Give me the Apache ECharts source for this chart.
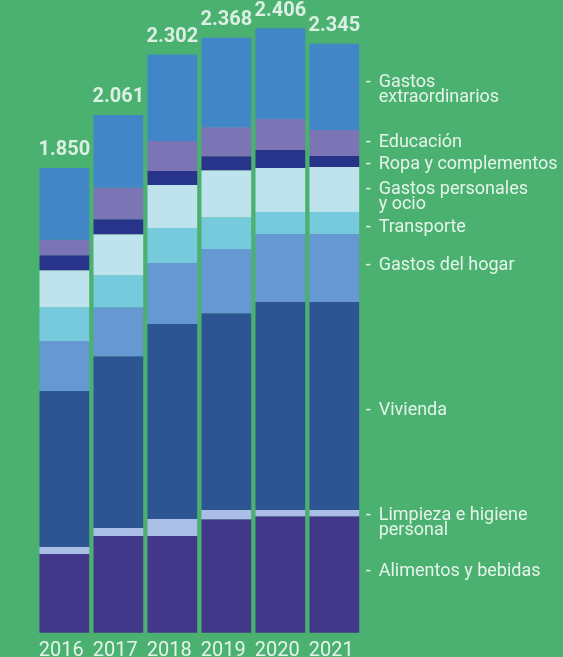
<!DOCTYPE html>
<html>
<head>
<meta charset="utf-8">
<script src="https://cdn.jsdelivr.net/npm/echarts@6/dist/echarts.min.js"></script>
<style>
html,body{margin:0;padding:0;background:#4ab170;}
#c{width:563px;height:657px;}
</style>
</head>
<body>
<div id="c"></div>
<script>
const years = ['2016','2017','2018','2019','2020','2021'];
const totals = [1850, 2061, 2302, 2368, 2406, 2345];

const alimentos      = [313, 385, 385, 452, 464, 464];
const limpieza       = [28, 32, 68, 36, 24, 24];
const vivienda       = [621, 684, 776, 784, 828, 828];
const hogar          = [199, 195, 243, 255, 271, 271];
const transporte     = [135, 127, 139, 127, 88, 88];
const personales     = [147, 163, 171, 187, 175, 179];
const ropa           = [60, 60, 56, 56, 72, 44];
const educacion      = [61, 125, 119, 115, 123, 103];
const extraordinarios= [286, 290, 345, 356, 361, 344];

const seriesDefs = [
  {name:'Alimentos y bebidas', data:alimentos, color:'#43378a', label:['Alimentos y bebidas'], off:-3},
  {name:'Limpieza e higiene personal', data:limpieza, color:'#abbee6', label:['Limpieza e higiene','personal'], off:10},
  {name:'Vivienda', data:vivienda, color:'#2d5592', label:['Vivienda'], off:4},
  {name:'Gastos del hogar', data:hogar, color:'#6699d1', label:['Gastos del hogar'], off:-3},
  {name:'Transporte', data:transporte, color:'#77c9dc', label:['Transporte'], off:5},
  {name:'Gastos personales y ocio', data:personales, color:'#bee3ec', label:['Gastos personales','y ocio'], off:8},
  {name:'Ropa y complementos', data:ropa, color:'#28338a', label:['Ropa y complementos'], off:3},
  {name:'Educación', data:educacion, color:'#7b75b6', label:['Educación'], off:0},
  {name:'Gastos extraordinarios', data:extraordinarios, color:'#4187c8', label:['Gastos','extraordinarios'], off:3}
];

const textColor = '#e6f4ea';
const last = years.length - 1;

const series = seriesDefs.map(s => ({
  name: s.name,
  type: 'bar',
  stack: 'total',
  barWidth: 49.7,
  itemStyle: {color: s.color},
  emphasis: {disabled: true},
  data: s.data.map((v, i) => i === last ? {
    value: v,
    label: {
      show: true,
      position: 'right',
      distance: 6.5,
      offset: [0, s.off],
      formatter: s.label.map((t, k) => (k === 0 ? '{d|-}' : '{d| }') + '{t|' + t + '}').join('\n'),
      rich: {
        d: {width: 13, color: textColor, fontSize: 18, fontFamily: 'Roboto', lineHeight: 15},
        t: {color: textColor, fontSize: 18, fontFamily: 'Roboto', lineHeight: 15}
      }
    }
  } : v)
}));

series.push({
  name: 'Total',
  type: 'scatter',
  data: totals,
  symbol: 'circle',
  symbolSize: 1,
  itemStyle: {color: 'rgba(0,0,0,0)'},
  silent: true,
  z: 10,
  label: {
    show: true,
    position: 'top',
    distance: 7,
    color: '#ffffff',
    fontFamily: 'Roboto',
    fontWeight: 'bold',
    fontSize: 20,
    formatter: p => {
      const s = String(p.value);
      return s.length > 3 ? s.slice(0, s.length - 3) + '.' + s.slice(-3) : s;
    }
  }
});

const chart = echarts.init(document.getElementById('c'), null, {renderer: 'canvas'});
chart.setOption({
  backgroundColor: '#4ab170',
  animation: false,
  grid: {left: 37.35, width: 324, top: 4.7, bottom: 24.3, containLabel: false, outerBoundsMode: 'none'},
  xAxis: {
    type: 'category',
    data: years,
    axisLine: {show: false},
    axisTick: {show: false},
    axisLabel: {color: textColor, fontSize: 20, fontFamily: 'Roboto', margin: 8, interval: 0, padding: [0, 6, 0, 0]}
  },
  yAxis: {
    type: 'value',
    min: 0,
    max: 2500,
    show: false,
    splitLine: {show: false}
  },
  series: series
});
</script>
</body>
</html>
